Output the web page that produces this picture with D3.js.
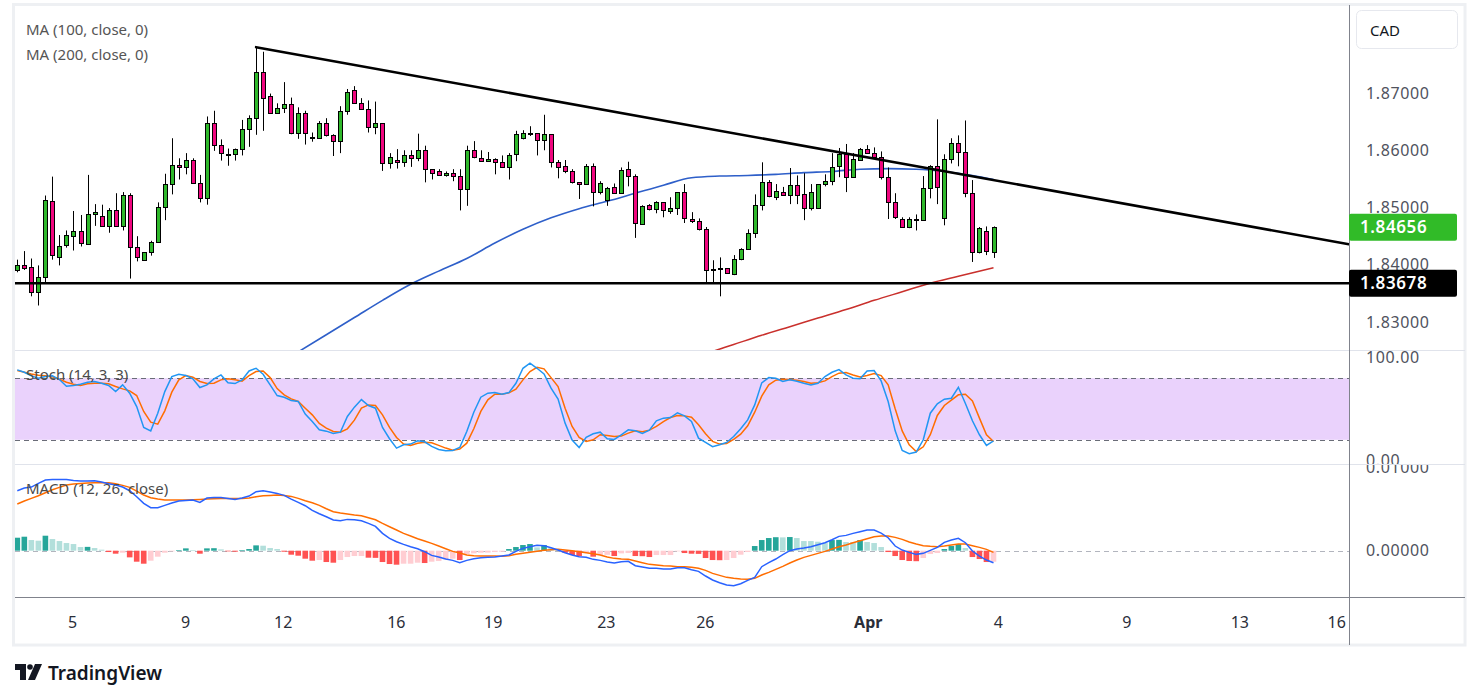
<!DOCTYPE html>
<html>
<head>
<meta charset="utf-8">
<script src="https://cdn.jsdelivr.net/npm/d3@7"></script>
<style>
  html, body { margin: 0; padding: 0; background: #fff; }
  svg { display: block; font-family: "Noto Sans", sans-serif; }
</style>
</head>
<body>
<svg id="chart" width="1479" height="699"></svg>
<script>
// ---- candles (bar index 0..139) ----
var opens = [1.8391,1.8399,1.8396,1.8352,1.8379,1.8511,1.8413,1.8434,1.8451,1.8459,
  1.8436,1.8488,1.8485,1.8468,1.8495,1.8468,1.8522,1.8431,1.8409,1.8422,
  1.8440,1.8501,1.8541,1.8574,1.8571,1.8583,1.8542,1.8516,1.8647,1.8610,
  1.8593,1.8593,1.8602,1.8638,1.8656,1.8736,1.8694,1.8665,1.8673,1.8680,
  1.8631,1.8665,1.8623,1.8621,1.8647,1.8626,1.8617,1.8668,1.8706,1.8682,
  1.8672,1.8640,1.8647,1.8577,1.8583,1.8579,1.8591,1.8586,1.8600,1.8567,
  1.8563,1.8556,1.8560,1.8555,1.8532,1.8600,1.8586,1.8581,1.8584,1.8579,
  1.8570,1.8593,1.8621,1.8630,1.8630,1.8618,1.8628,1.8579,1.8572,1.8563,
  1.8544,1.8541,1.8572,1.8527,1.8513,1.8536,1.8525,1.8567,1.8555,1.8471,
  1.8504,1.8497,1.8509,1.8494,1.8499,1.8527,1.8480,1.8476,1.8462,1.8392,
  1.8394,1.8394,1.8384,1.8410,1.8427,1.8455,1.8504,1.8544,1.8518,1.8528,
  1.8522,1.8539,1.8523,1.8499,1.8499,1.8541,1.8546,1.8572,1.8593,1.8553,
  1.8583,1.8602,1.8595,1.8588,1.8553,1.8509,1.8480,1.8466,1.8480,1.8478,
  1.8534,1.8572,1.8481,1.8584,1.8612,1.8597,1.8525,1.8422,1.8459,1.8422];
var highs = [1.8409,1.8424,1.8411,1.8399,1.8521,1.8554,1.8452,1.8460,1.8494,1.8487,
  1.8557,1.8506,1.8505,1.8499,1.8525,1.8527,1.8525,1.8450,1.8422,1.8442,
  1.8509,1.8559,1.8621,1.8586,1.8595,1.8586,1.8557,1.8659,1.8669,1.8619,
  1.8603,1.8603,1.8653,1.8661,1.8780,1.8772,1.8699,1.8682,1.8719,1.8692,
  1.8675,1.8669,1.8631,1.8651,1.8656,1.8628,1.8677,1.8707,1.8712,1.8691,
  1.8687,1.8685,1.8647,1.8595,1.8602,1.8600,1.8600,1.8629,1.8608,1.8567,
  1.8567,1.8563,1.8567,1.8567,1.8608,1.8616,1.8600,1.8597,1.8586,1.8591,
  1.8595,1.8634,1.8635,1.8642,1.8630,1.8662,1.8628,1.8583,1.8583,1.8567,
  1.8544,1.8576,1.8577,1.8546,1.8536,1.8542,1.8570,1.8580,1.8558,1.8504,
  1.8506,1.8511,1.8509,1.8518,1.8527,1.8541,1.8492,1.8481,1.8466,1.8408,
  1.8413,1.8394,1.8417,1.8429,1.8462,1.8523,1.8579,1.8548,1.8541,1.8536,
  1.8569,1.8556,1.8560,1.8541,1.8541,1.8558,1.8595,1.8604,1.8611,1.8595,
  1.8604,1.8609,1.8605,1.8598,1.8570,1.8525,1.8483,1.8483,1.8488,1.8555,
  1.8574,1.8654,1.8593,1.8621,1.8626,1.8652,1.8548,1.8466,1.8467,1.8467];
var lows = [1.8387,1.8391,1.8345,1.8329,1.8369,1.8409,1.8399,1.8430,1.8425,1.8432,
  1.8436,1.8468,1.8468,1.8456,1.8467,1.8460,1.8376,1.8406,1.8409,1.8416,
  1.8440,1.8478,1.8523,1.8549,1.8558,1.8542,1.8509,1.8505,1.8599,1.8582,
  1.8573,1.8582,1.8591,1.8606,1.8627,1.8634,1.8665,1.8665,1.8665,1.8628,
  1.8620,1.8610,1.8615,1.8621,1.8624,1.8590,1.8595,1.8662,1.8682,1.8672,
  1.8631,1.8628,1.8564,1.8568,1.8568,1.8571,1.8571,1.8581,1.8544,1.8549,
  1.8556,1.8554,1.8546,1.8495,1.8503,1.8586,1.8581,1.8581,1.8558,1.8569,
  1.8549,1.8581,1.8619,1.8625,1.8591,1.8600,1.8570,1.8551,1.8560,1.8542,
  1.8515,1.8541,1.8502,1.8523,1.8503,1.8525,1.8525,1.8537,1.8447,1.8471,
  1.8495,1.8490,1.8483,1.8489,1.8487,1.8473,1.8473,1.8460,1.8368,1.8370,
  1.8345,1.8385,1.8382,1.8408,1.8427,1.8447,1.8495,1.8518,1.8513,1.8522,
  1.8506,1.8506,1.8478,1.8495,1.8499,1.8537,1.8539,1.8553,1.8527,1.8553,
  1.8583,1.8595,1.8588,1.8549,1.8480,1.8480,1.8466,1.8464,1.8460,1.8478,
  1.8516,1.8506,1.8469,1.8577,1.8572,1.8518,1.8405,1.8420,1.8417,1.8412];
var closes = [1.8399,1.8395,1.8352,1.8379,1.8513,1.8417,1.8432,1.8452,1.8459,1.8438,
  1.8488,1.8492,1.8468,1.8495,1.8468,1.8522,1.8431,1.8413,1.8422,1.8440,
  1.8501,1.8541,1.8574,1.8571,1.8583,1.8542,1.8516,1.8647,1.8610,1.8595,
  1.8593,1.8602,1.8638,1.8656,1.8736,1.8692,1.8665,1.8673,1.8680,1.8631,
  1.8665,1.8630,1.8623,1.8647,1.8626,1.8617,1.8668,1.8701,1.8682,1.8672,
  1.8640,1.8647,1.8577,1.8588,1.8579,1.8591,1.8586,1.8600,1.8567,1.8560,
  1.8556,1.8560,1.8555,1.8532,1.8600,1.8588,1.8581,1.8584,1.8579,1.8570,
  1.8591,1.8628,1.8630,1.8630,1.8618,1.8628,1.8579,1.8570,1.8563,1.8544,
  1.8541,1.8572,1.8527,1.8542,1.8534,1.8525,1.8565,1.8555,1.8473,1.8502,
  1.8497,1.8509,1.8495,1.8499,1.8527,1.8481,1.8476,1.8462,1.8391,1.8392,
  1.8394,1.8385,1.8410,1.8427,1.8455,1.8504,1.8544,1.8520,1.8529,1.8522,
  1.8539,1.8522,1.8499,1.8528,1.8541,1.8546,1.8570,1.8593,1.8553,1.8584,
  1.8602,1.8595,1.8588,1.8553,1.8509,1.8483,1.8466,1.8480,1.8480,1.8534,
  1.8572,1.8536,1.8584,1.8612,1.8597,1.8525,1.8422,1.8464,1.8424,1.84656];

// ---- moving averages (bar index, value) ----
var ma100Bars = [38,40,44,48,52,56,60,64,68,72,76,80,84,88,92,96,100,104,108,112,116,120,124,128,132,136,139];
var ma100Vals = [1.8233,1.8248,1.8278,1.8308,1.8338,1.8366,1.8389,1.8411,1.8438,1.8462,1.8482,1.8498,1.8511,
  1.8525,1.8539,1.8552,1.8555,1.8556,1.8558,1.8561,1.8563,1.8567,1.8568,1.8567,1.8563,1.8556,1.8549];
var ma200Bars = [96,98,102,106,110,114,118,122,126,130,134,139];
var ma200Vals = [1.8238,1.8245,1.8261,1.8277,1.8292,1.8307,1.8322,1.8338,1.8353,1.8368,1.8380,1.8395];

// ---- drawings ----
var trendBars = [34, 189.6];
var trendPrices = [1.8780, 1.8436];
var supportLevel = 1.83678;
var lastPrice = 1.84656;

// ---- stochastic ----
var stochK = [88.1,85.8,82.3,80,81.6,82.3,78.7,72.2,72.9,74.2,
  76.1,76.8,75.1,72.9,67,73.5,65.4,52.4,32,28.7,
  45.9,67,81.6,83.9,82.6,79.4,70.9,73.5,79.4,83.2,
  75.5,74.8,78.4,87.1,89.7,83.9,73.5,63.1,61.5,58.3,
  57.3,45,37.8,29.7,28.4,26.1,27.4,42.7,51.8,59.2,
  53.4,50.8,32,21,11.9,15.1,15.8,19,18,13.5,
  10.6,9.3,9.6,12.5,28.1,46.9,61.5,65.4,66,64.4,
  66,75.1,89.7,94.6,89.7,84.2,70.3,59.6,36.2,19.7,
  12.5,22.3,25.8,27.4,21,20.3,24.9,29.7,28.7,26.1,
  29.4,38.5,41.1,41.7,46.3,43.3,37.8,21.6,17.4,13.2,
  15.1,17.4,23.2,30.7,39.4,54,75.5,80.6,80,76.8,
  78.4,77.1,75.1,73.5,75.1,81.6,85.8,88.4,83.2,80,
  79.4,87.1,87.5,77.4,57.3,28.7,9.6,6.4,8,20,
  45.9,55,59.6,60.5,71.2,55.3,38.5,24.9,14.5,19];
var stochD = [87.5,85.8,84.2,82.9,82.3,81.3,79,76.1,74.2,72.9,
  74.5,75.1,75.1,74.5,71.9,69.6,67.7,63.1,47.6,37.2,
  35.2,48.2,66.4,78.4,82.6,81,76.8,74.8,75.1,78.4,
  79.4,78.4,77.1,82.6,86.5,87.1,80.6,69.9,63.8,59.9,
  57.3,50.8,44.3,35.9,31.3,28.1,27.4,30.7,39.1,50.8,
  54,53.4,44.3,32,22.3,15.8,14.5,16.7,17.7,17.1,
  14.5,11.9,9.9,10.9,16.7,30.7,47.6,58.9,64.4,64.4,
  65.7,69.3,78.4,86.5,90.7,89.1,80.6,71.9,50.8,33,
  22.3,18.4,20,24.9,24.2,23.2,23.6,26.5,28.7,27.8,
  29.4,33,37.8,41.7,43.7,43.3,42,34.6,25.8,18.4,
  15.8,16.4,20.3,25.5,33.6,46.9,62.5,73.5,78.1,79,
  78.7,78.1,76.8,75.1,75.5,77.4,81.6,84.9,85.5,83.2,
  81.3,82.6,84.5,82.6,73.5,50.2,28.7,15.1,8.6,13.2,
  24.9,43.7,53.4,58.6,63.8,64.4,57.9,41.1,24.9,18.4];

// ---- MACD ----
var macdLine = [0.00720,0.00752,0.00764,0.00808,0.00848,0.00856,0.00856,0.00856,0.00844,0.00836,
  0.00836,0.00840,0.00824,0.00804,0.00788,0.00764,0.00720,0.00648,0.00568,0.00516,
  0.00516,0.00544,0.00572,0.00596,0.00604,0.00608,0.00580,0.00632,0.00640,0.00640,
  0.00628,0.00616,0.00632,0.00656,0.00708,0.00720,0.00704,0.00688,0.00664,0.00620,
  0.00580,0.00540,0.00484,0.00444,0.00408,0.00368,0.00360,0.00376,0.00372,0.00360,
  0.00328,0.00292,0.00208,0.00148,0.00108,0.00076,0.00048,0.00024,-0.00012,-0.00056,
  -0.00076,-0.00100,-0.00116,-0.00144,-0.00116,-0.00096,-0.00084,-0.00080,-0.00076,-0.00064,
  -0.00052,-0.00008,0.00028,0.00048,0.00064,0.00060,0.00036,0.00008,-0.00024,-0.00052,
  -0.00072,-0.00080,-0.00104,-0.00116,-0.00136,-0.00148,-0.00132,-0.00128,-0.00180,-0.00196,
  -0.00212,-0.00212,-0.00220,-0.00220,-0.00204,-0.00204,-0.00228,-0.00248,-0.00304,-0.00352,
  -0.00384,-0.00412,-0.00420,-0.00396,-0.00356,-0.00320,-0.00192,-0.00144,-0.00100,-0.00048,
  0.00000,0.00020,0.00032,0.00048,0.00072,0.00096,0.00132,0.00172,0.00184,0.00208,
  0.00228,0.00248,0.00248,0.00212,0.00156,0.00056,0.00008,-0.00020,-0.00044,-0.00032,
  0.00004,0.00040,0.00100,0.00128,0.00148,0.00096,-0.00004,-0.00064,-0.00112,-0.00144];
var signalLine = [0.00560,0.00596,0.00628,0.00660,0.00696,0.00732,0.00760,0.00788,0.00800,0.00808,
  0.00812,0.00816,0.00816,0.00816,0.00804,0.00784,0.00760,0.00716,0.00668,0.00636,
  0.00620,0.00608,0.00608,0.00608,0.00608,0.00612,0.00616,0.00620,0.00624,0.00628,
  0.00628,0.00628,0.00628,0.00632,0.00648,0.00660,0.00664,0.00668,0.00664,0.00652,
  0.00628,0.00600,0.00576,0.00544,0.00504,0.00468,0.00452,0.00440,0.00428,0.00420,
  0.00396,0.00372,0.00328,0.00288,0.00248,0.00208,0.00176,0.00144,0.00116,0.00088,
  0.00056,0.00024,-0.00008,-0.00028,-0.00052,-0.00060,-0.00064,-0.00064,-0.00064,-0.00068,
  -0.00060,-0.00044,-0.00032,-0.00020,-0.00008,0.00004,0.00012,0.00016,0.00008,0.00000,
  -0.00012,-0.00024,-0.00036,-0.00052,-0.00076,-0.00092,-0.00100,-0.00104,-0.00124,-0.00144,
  -0.00164,-0.00172,-0.00180,-0.00184,-0.00192,-0.00192,-0.00200,-0.00212,-0.00236,-0.00272,
  -0.00296,-0.00320,-0.00332,-0.00340,-0.00344,-0.00332,-0.00292,-0.00260,-0.00224,-0.00188,
  -0.00148,-0.00112,-0.00080,-0.00056,-0.00032,-0.00008,0.00020,0.00048,0.00068,0.00096,
  0.00120,0.00144,0.00168,0.00176,0.00176,0.00160,0.00136,0.00104,0.00080,0.00060,
  0.00052,0.00048,0.00056,0.00068,0.00080,0.00080,0.00060,0.00040,0.00016,-0.00020];
var macdHist = [0.00156,0.00168,0.00128,0.00120,0.00180,0.00140,0.00116,0.00092,0.00080,0.00044,
  0.00046,0.00032,0.00012,-0.00016,-0.00036,-0.00024,-0.00080,-0.00132,-0.00156,-0.00120,
  -0.00072,-0.00024,-0.00008,0.00008,0.00028,0.00008,-0.00036,0.00028,0.00030,0.00016,
  -0.00008,-0.00012,0.00008,0.00020,0.00064,0.00060,0.00032,0.00020,-0.00012,-0.00048,
  -0.00060,-0.00096,-0.00120,-0.00112,-0.00136,-0.00144,-0.00112,-0.00076,-0.00064,-0.00064,
  -0.00084,-0.00086,-0.00136,-0.00160,-0.00168,-0.00156,-0.00156,-0.00144,-0.00148,-0.00132,
  -0.00124,-0.00104,-0.00096,-0.00112,-0.00040,-0.00032,-0.00024,-0.00022,-0.00016,-0.00012,
  0.00020,0.00044,0.00068,0.00080,0.00040,0.00068,0.00032,0.00016,-0.00024,-0.00052,
  -0.00064,-0.00024,-0.00072,-0.00052,-0.00050,-0.00064,-0.00032,-0.00028,-0.00064,-0.00066,
  -0.00076,-0.00052,-0.00052,-0.00052,-0.00008,-0.00028,-0.00036,-0.00038,-0.00088,-0.00112,
  -0.00114,-0.00112,-0.00088,-0.00048,-0.00016,0.00056,0.00128,0.00152,0.00162,0.00160,
  0.00164,0.00152,0.00116,0.00116,0.00108,0.00092,0.00128,0.00130,0.00104,0.00104,
  0.00128,0.00104,0.00092,0.00044,-0.00016,-0.00064,-0.00112,-0.00124,-0.00126,-0.00088,
  -0.00040,-0.00028,0.00020,0.00056,0.00080,0.00032,-0.00076,-0.00100,-0.00136,-0.00132];

// ---- axis ticks ----
var priceTicks = [1.83, 1.84, 1.85, 1.86, 1.87];
var tickBars = [7.8, 23.9, 37.8, 53.9, 67.7, 83.8, 97.9, 121.1, 139.6, 157.9, 174, 187.8];
var tickLabels = ["5", "9", "12", "16", "19", "23", "26", "Apr", "4", "9", "13", "16"];

// ---- layout ----
var svg = d3.select("#chart");
var left = 15, right = 1349, outer = 1465;
var mainTop = 5, mainBot = 350, stBot = 464, mdBot = 597, axBot = 645;
var green = "#2fb82b", pink = "#f0067f";
var axisText = "#50535e";

var x = d3.scaleLinear().domain([0, 139]).range([17.3, 993.5]);
var y = d3.scaleLinear().domain([1.83, 1.87]).range([322.1, 93]);
var ys = d3.scaleLinear().domain([0, 100]).range([460.3, 357.7]);
var ym = d3.scaleLinear().domain([0, 0.01]).range([550.7, 467.4]);

var defs = svg.append("defs");
function clip(id, x0, y0, w, h) {
  defs.append("clipPath").attr("id", id).append("rect")
    .attr("x", x0).attr("y", y0).attr("width", w).attr("height", h);
}
clip("cMain", left, mainTop, right - left, mainBot - mainTop);
clip("cStoch", left, mainBot, right - left, stBot - mainBot);
clip("cMacd", left, stBot, right - left, mdBot - stBot);
clip("aStoch", right, mainBot + 1, outer - right, stBot - mainBot - 1);
clip("aMacd", right, stBot + 1, outer - right, mdBot - stBot - 1);

svg.append("rect").attr("width", 1479).attr("height", 699).attr("fill", "#fff");

// ---- main pane ----
var gMain = svg.append("g").attr("clip-path", "url(#cMain)");

var lineMa = d3.line()
  .x(function(d) { return x(d[0]); })
  .y(function(d) { return y(d[1]); })
  .curve(d3.curveMonotoneX);

gMain.append("path")
  .datum(d3.zip(ma100Bars, ma100Vals))
  .attr("d", lineMa).attr("fill", "none")
  .attr("stroke", "#2e5fc9").attr("stroke-width", 1.6);
gMain.append("path")
  .datum(d3.zip(ma200Bars, ma200Vals))
  .attr("d", lineMa).attr("fill", "none")
  .attr("stroke", "#c9302c").attr("stroke-width", 1.5);

var candles = closes.map(function(c, i) {
  return {i: i, o: opens[i], h: highs[i], l: lows[i], c: c};
});
var gC = gMain.selectAll(".candle").data(candles).enter().append("g").attr("class", "candle");
gC.append("line")
  .attr("x1", function(d) { return Math.round(x(d.i)) + 0.5; })
  .attr("x2", function(d) { return Math.round(x(d.i)) + 0.5; })
  .attr("y1", function(d) { return y(d.h); })
  .attr("y2", function(d) { return y(d.l); })
  .attr("stroke", "#000").attr("stroke-width", 1);
gC.append("rect")
  .attr("x", function(d) { return Math.round(x(d.i)) - 1.5; })
  .attr("width", 4)
  .attr("y", function(d) { return Math.round(y(Math.max(d.o, d.c))) + 0.5; })
  .attr("height", function(d) {
    return Math.max(1, Math.round(y(Math.min(d.o, d.c))) - Math.round(y(Math.max(d.o, d.c))));
  })
  .attr("fill", function(d) { return d.c >= d.o ? green : pink; })
  .attr("stroke", "#000").attr("stroke-width", 1);

gMain.append("line")
  .attr("x1", x(trendBars[0])).attr("y1", y(trendPrices[0]))
  .attr("x2", x(trendBars[1])).attr("y2", y(trendPrices[1]))
  .attr("stroke", "#000").attr("stroke-width", 2.6).attr("stroke-linecap", "round");
gMain.append("line")
  .attr("x1", left).attr("x2", right)
  .attr("y1", y(supportLevel)).attr("y2", y(supportLevel))
  .attr("stroke", "#000").attr("stroke-width", 2.6);

svg.selectAll(".legend").data(["MA (100, close, 0)", "MA (200, close, 0)"])
  .enter().append("text")
  .attr("x", 26).attr("y", function(d, i) { return 35 + i * 25; })
  .attr("font-size", 15).attr("fill", "#555").text(function(d) { return d; });

// ---- stochastic pane ----
var gSt = svg.append("g").attr("clip-path", "url(#cStoch)");
gSt.append("rect")
  .attr("x", left).attr("width", right - left)
  .attr("y", ys(80)).attr("height", ys(20) - ys(80))
  .attr("fill", "#ead2fc");
[80, 20].forEach(function(v) {
  gSt.append("line").attr("x1", left).attr("x2", right)
    .attr("y1", Math.round(ys(v)) + 0.5).attr("y2", Math.round(ys(v)) + 0.5)
    .attr("stroke", "#6a6d78").attr("stroke-dasharray", "5,4");
});
var lineSt = d3.line()
  .x(function(d, i) { return x(i); })
  .y(function(d) { return ys(d); });
gSt.append("path").datum(stochD).attr("d", lineSt).attr("fill", "none")
  .attr("stroke", "#ff6d00").attr("stroke-width", 1.5);
gSt.append("path").datum(stochK).attr("d", lineSt).attr("fill", "none")
  .attr("stroke", "#2196f3").attr("stroke-width", 1.5);
svg.append("text").attr("x", 26).attr("y", 380).attr("font-size", 15)
  .attr("fill", "#4a4a4a").text("Stoch (14, 3, 3)");

// ---- MACD pane ----
var gMd = svg.append("g").attr("clip-path", "url(#cMacd)");
gMd.append("line").attr("x1", left).attr("x2", right)
  .attr("y1", Math.round(ym(0)) + 0.5).attr("y2", Math.round(ym(0)) + 0.5)
  .attr("stroke", "#b2b5be").attr("stroke-dasharray", "5,4");
gMd.selectAll(".hist").data(macdHist).enter().append("rect")
  .attr("x", function(d, i) { return x(i) - 2.8; })
  .attr("width", 5.6)
  .attr("y", function(d) { return Math.min(ym(d), ym(0)); })
  .attr("height", function(d) { return Math.abs(ym(d) - ym(0)); })
  .attr("fill", function(d, i) {
    var p = i > 0 ? macdHist[i - 1] : -Infinity;
    if (d >= 0) return (i === 0 || d > p) ? "#26a69a" : "#b2dfdb";
    return (d < p) ? "#ff5252" : "#ffcdd2";
  });
var lineMd = d3.line()
  .x(function(d, i) { return x(i); })
  .y(function(d) { return ym(d); });
gMd.append("path").datum(signalLine).attr("d", lineMd).attr("fill", "none")
  .attr("stroke", "#ff6d00").attr("stroke-width", 1.5);
gMd.append("path").datum(macdLine).attr("d", lineMd).attr("fill", "none")
  .attr("stroke", "#2962ff").attr("stroke-width", 1.5);
svg.append("text").attr("x", 26).attr("y", 494).attr("font-size", 15)
  .attr("fill", "#4a4a4a").text("MACD (12, 26, close)");

// ---- frame and separators ----
svg.append("rect").attr("x", 13.5).attr("y", 4.5).attr("width", outer - 13.5).attr("height", axBot - 4.5)
  .attr("fill", "none").attr("stroke", "#eef0f3").attr("stroke-width", 3);
[mainBot, stBot].forEach(function(v) {
  svg.append("line").attr("x1", left).attr("x2", outer)
    .attr("y1", v + 0.5).attr("y2", v + 0.5).attr("stroke", "#e0e3eb");
});
svg.append("line").attr("x1", left).attr("x2", outer)
  .attr("y1", mdBot + 0.5).attr("y2", mdBot + 0.5).attr("stroke", "#80838c");
svg.append("line").attr("x1", right + 0.5).attr("x2", right + 0.5)
  .attr("y1", mainTop).attr("y2", axBot).attr("stroke", "#80838c");

// ---- right axes ----
function styleAxis(g) {
  g.select(".domain").remove();
  g.selectAll("text").attr("font-size", 16).attr("fill", axisText)
    .attr("font-family", "Noto Sans, sans-serif").attr("letter-spacing", 0.6);
}
svg.append("g").attr("transform", "translate(" + right + ",0)")
  .call(d3.axisRight(y).tickValues(priceTicks).tickFormat(d3.format(".5f")).tickSize(0).tickPadding(17))
  .call(styleAxis);
svg.append("g").attr("clip-path", "url(#aStoch)")
  .append("g").attr("transform", "translate(" + right + ",0)")
  .call(d3.axisRight(ys).tickValues([0, 100]).tickFormat(d3.format(".2f")).tickSize(0).tickPadding(17))
  .call(styleAxis);
svg.append("g").attr("clip-path", "url(#aMacd)")
  .append("g").attr("transform", "translate(" + right + ",0)")
  .call(d3.axisRight(ym).tickValues([0, 0.01]).tickFormat(d3.format(".5f")).tickSize(0).tickPadding(17))
  .call(styleAxis);

// price labels
function priceTag(v, fill) {
  var g = svg.append("g").attr("transform", "translate(" + right + "," + y(v) + ")");
  g.append("rect").attr("x", 0).attr("y", -13.5).attr("width", 108).attr("height", 27)
    .attr("rx", 2).attr("fill", fill);
  g.append("text").attr("x", 11).attr("y", 6).attr("font-size", 17).attr("font-weight", 600)
    .attr("letter-spacing", 0.6).attr("fill", "#fff").text(d3.format(".5f")(v));
}
priceTag(lastPrice, "#31bb28");
priceTag(supportLevel, "#000");

// currency box
svg.append("rect").attr("x", 1356.5).attr("y", 10.5).attr("width", 101).attr("height", 38)
  .attr("rx", 5).attr("fill", "#fff").attr("stroke", "#e6e8ee");
svg.append("text").attr("x", 1370).attr("y", 36).attr("font-size", 15)
  .attr("fill", "#131722").text("CAD");

// ---- time axis ----
var gx = svg.append("g").attr("transform", "translate(0," + mdBot + ")")
  .call(d3.axisBottom(x).tickValues(tickBars)
    .tickFormat(function(d, i) { return tickLabels[i]; })
    .tickSize(0).tickPadding(19.5));
gx.select(".domain").remove();
gx.selectAll("text").attr("font-size", 16).attr("fill", "#2a2e39")
  .attr("font-family", "Noto Sans, sans-serif")
  .attr("font-weight", function(d, i) { return tickLabels[i] === "Apr" ? 700 : 400; });

// ---- logo ----
var logo = svg.append("g").attr("fill", "#131722");
logo.append("path").attr("d", "M15,664 H26 V680 H20 V670 H15 Z");
logo.append("circle").attr("cx", 30).attr("cy", 667).attr("r", 2.8);
logo.append("path").attr("d", "M35,664 H42 L35,680 H28 Z");
svg.append("text").attr("x", 48).attr("y", 680).attr("font-size", 19).attr("font-weight", 600)
  .attr("fill", "#131722").text("TradingView");
</script>
</body>
</html>
